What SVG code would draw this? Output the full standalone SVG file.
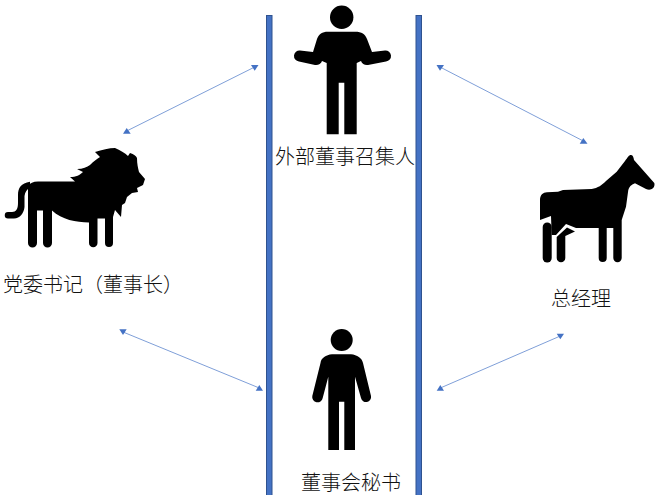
<svg xmlns="http://www.w3.org/2000/svg" width="658" height="495" viewBox="0 0 658 495">
<style>
.bar{fill:#4472c4;stroke:#2f528f;stroke-width:1}
.c{stroke:#7f9fd8;stroke-width:1;fill:none}
.h{fill:#4472c4}
.k{fill:#000}
text{font-family:"Noto Sans CJK SC","Noto Sans",sans-serif;font-size:20px;font-weight:300;fill:#111}
</style>
<rect width="658" height="495" fill="#fff"/>
<g id="bars">
<rect class="bar" x="266.500" y="15.500" width="5.500" height="480"/>
<rect class="bar" x="416" y="15.500" width="5.500" height="480"/>
</g>
<g id="connectors">
<line class="c" x1="254.700" y1="67" x2="126.700" y2="131"/>
<polygon class="h" points="251,65 258.500,65 254.700,70.800"/>
<polygon class="h" points="123,133.800 130.700,133.800 126.700,128"/>
<line class="c" x1="440" y1="67" x2="583.300" y2="141"/>
<polygon class="h" points="436.500,65 444,65 440,70.800"/>
<polygon class="h" points="579.700,143.800 587.500,143.800 583.300,138"/>
<line class="c" x1="123" y1="332" x2="259.300" y2="388"/>
<polygon class="h" points="119.300,329.300 126.700,329.300 123,335"/>
<polygon class="h" points="255.700,390.800 263,390.800 259.300,385"/>
<line class="c" x1="440.300" y1="388" x2="560.300" y2="336"/>
<polygon class="h" points="436.700,390.800 444,390.800 440.300,385"/>
<polygon class="h" points="556.700,333.700 564,333.700 560.300,339.300"/>
</g>
<g id="lion">
<path class="k" d="M28,190 L28,186 C30,183 33,181.500 38,181.500 L75,181.500 L70,177 C76,177 80,175 83,172 L77,169 C83,169 87,167 90,165 C94,161 97,159 100,157 L95,152 C102,150 109,148 115,148 C120,150 125,153 128,156 L130,153 C134,154 136,156 137,158 C137,164 138,168 139,172 L145,179 L143,185 L137,188 L138,192 L132,193 L127,197 L125,203 L122,205 L121,217 L115,210 L113,217 L113,243 A4.000,4.000 0 0 1 105,243 L105,218.500 L97.500,218.500 L97.500,243 A4.250,4.250 0 0 1 89,243 L89,222.500 C76,222 62,220 52,210.500 L52,243 A4.500,4.500 0 0 1 43,243 L43,210.500 L37,210.500 L37,243 A4.500,4.500 0 0 1 28,243 Z"/>
<path class="k" d="M30,181.700 C21,183 18,188 18,195 L18,203 C18,209 16,212 12,212 L8,212 A3,3 0 0 0 8,218.500 L14,218.500 C20,218.500 24,213 24.500,207 L24.500,196 C25,192 27,189 30,188 Z"/>
<text x="3" y="292">党委书记（董事长）</text>
</g>
<g id="convener">
<circle class="k" cx="341.700" cy="17.300" r="11.700"/>
<path class="k" d="M328,31.700 L355,31.700 C362,31.700 365,34 367,39 L372,52 L385,50.500 A5.500,5.500 0 0 1 386,61.500 L368,65 C365,65.500 362,64 361,61 L356.700,63 L356.700,134.300 L344.300,134.300 L344.300,82.700 L338.700,82.700 L338.700,134.300 L326.700,134.300 L326.700,63 L322,61 C321,64 318,65.500 315,65 L299,61.500 A5.500,5.500 0 0 1 300,50.500 L313,52 L317,39 C319,34 322,31.700 328,31.700 Z"/>
<text x="275" y="164">外部董事召集人</text>
</g>
<g id="horse">
<path class="k" d="M630.700,155 C633,155 633.500,157 634,160 L654.300,183 C655.500,188 651,191 646,189 L635,183.300 C631,185 629,187 628.300,190 L626,206.700 L621.700,220 L621.700,258 A4.200,4.200 0 0 1 613.300,258 L613.300,228 L606.700,228 L606.700,258 A4,4 0 0 1 598.700,258 L598.700,228 L576,228 L566,224 L556,235 L551.700,235 L551,216 L540,220 L540,200 C540,195 543,192.500 547,192.300 L558,191.700 L563,190 L591.700,189 C598,188 602,185 606,181 L616.700,171.700 L625,161 C628,157 629,155 630.700,155 Z"/>
<path class="k" d="M542.700,227 A4.500,4.500 0 0 1 551.700,227 L551.700,258 A4.500,4.500 0 0 1 542.700,258 Z"/>
<path class="k" d="M556.700,237 L567,227.500 L575,231.500 L565.300,236 L565.300,258 A4.300,4.300 0 0 1 556.700,258 Z"/>
<text x="551" y="306">总经理</text>
</g>
<g id="secretary">
<circle class="k" cx="341.700" cy="340" r="11"/>
<path class="k" d="M332,354.300 L351,354.300 C357,355 362,358 363,363 L371,396 A5,5 0 0 1 361,398 L355,376.700 L355,450 L344.300,450 L344.300,401.700 L339,401.700 L339,450 L328.300,450 L328.300,376.700 L322.700,398 A5,5 0 0 1 312.300,396 L320.500,363 C321,358 326,355 332,354.300 Z"/>
<text x="301" y="490">董事会秘书</text>
</g>
</svg>
